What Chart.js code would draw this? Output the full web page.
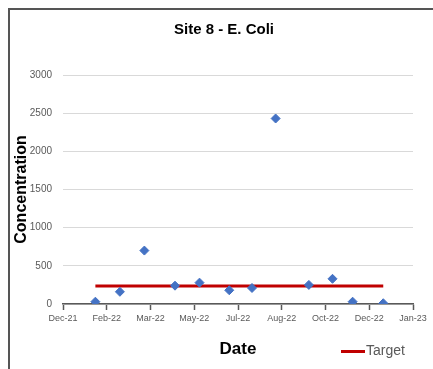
<!DOCTYPE html>
<html>
<head>
<meta charset="utf-8">
<script src="https://cdn.jsdelivr.net/npm/chart.js@4/dist/chart.umd.min.js"></script>
<style>
  html, body { margin: 0; padding: 0; background: #fff; }
  #wrap { width: 433px; height: 369px; }
</style>
</head>
<body>
<div id="wrap"><canvas id="ecoli" width="433" height="369"></canvas></div>
<script>
// sample dates and E. coli readings
var sampleDates = ['2022-01-26', '2022-02-23', '2022-03-23', '2022-04-27', '2022-05-25', '2022-06-28',
                   '2022-07-24', '2022-08-20', '2022-09-27', '2022-10-24', '2022-11-16', '2022-12-21'];
var concentration = [30, 160, 700, 240, 280, 180, 210, 2430, 250, 330, 30, 10];
var targetValue = 235;

// x axis runs in whole days, Excel style 50 day major unit
var axisStart = '2021-12-20';
var axisEnd = '2023-01-24';
var dayStep = 50;
var monthNames = ['Jan', 'Feb', 'Mar', 'Apr', 'May', 'Jun', 'Jul', 'Aug', 'Sep', 'Oct', 'Nov', 'Dec'];

function toDay(s) {
  var p = s.split('-');
  return Date.UTC(+p[0], +p[1] - 1, +p[2]) / 864e5;
}
function dayLabel(v) {
  var d = new Date(v * 864e5);
  return monthNames[d.getUTCMonth()] + '-' + String(d.getUTCFullYear()).slice(2);
}

var points = sampleDates.map(function(s, i) { return {x: toDay(s), y: concentration[i]}; });
var targetLine = [
  {x: toDay(sampleDates[0]), y: targetValue},
  {x: toDay(sampleDates[sampleDates.length - 1]), y: targetValue}
];

// frame + legend entry (drawn by hand so it can sit next to the axis title)
var extras = {
  id: 'extras',
  afterDraw: function(chart) {
    var ctx = chart.ctx;
    ctx.save();
    ctx.strokeStyle = '#555555';
    ctx.lineWidth = 2;
    ctx.beginPath();
    ctx.moveTo(9, 369);
    ctx.lineTo(9, 9);
    ctx.lineTo(433, 9);
    ctx.stroke();

    ctx.strokeStyle = '#C00000';
    ctx.lineWidth = 3;
    ctx.beginPath();
    ctx.moveTo(341, 351.5);
    ctx.lineTo(365, 351.5);
    ctx.stroke();
    ctx.fillStyle = '#595959';
    ctx.font = '14px "Liberation Sans"';
    ctx.textBaseline = 'middle';
    ctx.fillText('Target', 366, 351);
    ctx.restore();
  }
};

Chart.defaults.font.family = '"Liberation Sans", Arial, sans-serif';
Chart.defaults.color = '#595959';

var ctx = document.getElementById('ecoli').getContext('2d');
new Chart(ctx, {
  type: 'scatter',
  data: {
    datasets: [{
      label: 'E. Coli',
      data: points,
      pointStyle: 'rectRot',
      pointRadius: 4.5,
      pointBackgroundColor: '#4472C4',
      pointBorderColor: '#4472C4',
      pointBorderWidth: 1
    }, {
      label: 'Target',
      type: 'line',
      data: targetLine,
      borderColor: '#C00000',
      borderWidth: 3,
      pointRadius: 0,
      fill: false
    }]
  },
  options: {
    responsive: false,
    animation: false,
    layout: { padding: { left: 25, right: 10, top: 0, bottom: 9 } },
    plugins: {
      legend: { display: false },
      tooltip: { enabled: false },
      title: {
        display: true,
        text: 'Site 8 - E. Coli',
        color: '#000000',
        font: { size: 15, weight: 'bold' },
        padding: { top: 21, bottom: 36 }
      }
    },
    scales: {
      x: {
        type: 'linear',
        min: toDay(axisStart),
        max: toDay(axisEnd),
        afterFit: function(scale) { scale.height = 56; },
        border: { color: '#595959', width: 1.5 },
        grid: { drawOnChartArea: false, color: '#595959', tickLength: 6, tickWidth: 1.5 },
        ticks: {
          stepSize: dayStep,
          maxRotation: 0,
          autoSkip: false,
          padding: 3,
          font: { size: 9 },
          callback: function(v) { return dayLabel(v); }
        },
        title: {
          display: true,
          text: 'Date',
          color: '#000000',
          font: { size: 17, weight: 'bold' },
          padding: { top: 0, bottom: 0 }
        }
      },
      y: {
        min: 0,
        max: 3000,
        afterFit: function(scale) { scale.width = 38; },
        border: { display: false },
        grid: { color: '#d9d9d9', drawTicks: false },
        ticks: {
          stepSize: 500,
          padding: 11,
          font: { size: 10 },
          callback: function(v) { return String(v); }
        },
        title: {
          display: true,
          text: 'Concentration',
          color: '#000000',
          font: { size: 16, weight: 'bold' },
          padding: { top: -12.6, bottom: 0 }
        }
      },
      // empty right-hand gutter so the plot stops short of the edge
      gutter: {
        type: 'linear',
        position: 'right',
        afterFit: function(scale) { scale.width = 10; },
        border: { display: false },
        grid: { display: false },
        ticks: { display: false }
      }
    }
  },
  plugins: [extras]
});
</script>
</body>
</html>
